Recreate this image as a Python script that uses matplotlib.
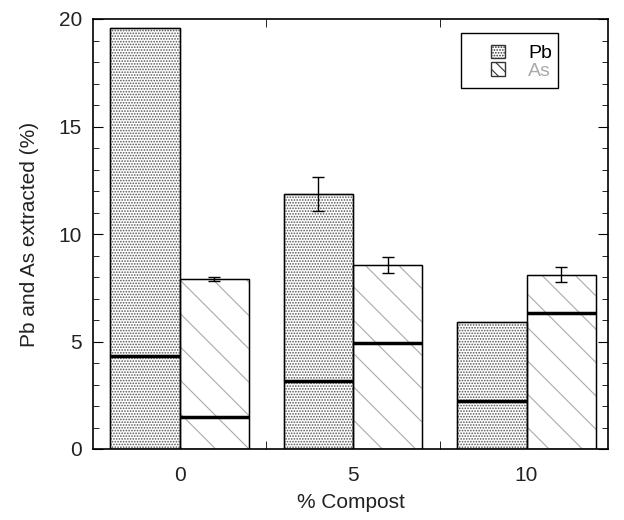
import matplotlib
matplotlib.use("Agg")
import matplotlib.pyplot as plt
from matplotlib.ticker import MultipleLocator, FixedLocator
from matplotlib.patches import Patch, Rectangle

plt.rcParams['font.family'] = ['Liberation Sans', 'DejaVu Sans']
plt.rcParams['hatch.linewidth'] = 0.8

# data
compost = ["0", "5", "10"]
pb_total = [19.6, 11.85, 5.9]
pb_err = [0.0, 0.8, 0.0]
pb_inner = [4.33, 3.16, 2.23]
as_total = [7.9, 8.57, 8.1]
as_err = [0.08, 0.38, 0.35]
as_inner = [1.49, 4.93, 6.33]

x = list(range(len(compost)))
w = 0.4
pb_x = [i - w / 2 for i in x]
as_x = [i + w / 2 for i in x]

fig = plt.figure(figsize=(6.24, 5.2), dpi=100)
ax = fig.add_axes([93 / 624, 71 / 520, 515 / 624, 430 / 520])

ax.bar(pb_x, pb_total, width=w, facecolor="white", edgecolor="#555555",
       hatch="......", linewidth=1.0)
ax.bar(as_x, as_total, width=w, facecolor="white", edgecolor="#aaaaaa",
       hatch="\\", linewidth=1.0)
# outlines in black on top of the hatching
ax.bar(pb_x, pb_total, width=w, fill=False, edgecolor="black", linewidth=1.0)
ax.bar(as_x, as_total, width=w, fill=False, edgecolor="black", linewidth=1.0)

# thick inner lines
ax.hlines(pb_inner, [i - w / 2 for i in pb_x], [i + w / 2 for i in pb_x],
          colors="black", linewidth=2.5)
ax.hlines(as_inner, [i - w / 2 for i in as_x], [i + w / 2 for i in as_x],
          colors="black", linewidth=2.5)

# error bars
for xs, ys, es in [(pb_x, pb_total, pb_err), (as_x, as_total, as_err)]:
    for xi, yi, ei in zip(xs, ys, es):
        if ei > 0:
            ax.errorbar(xi, yi, yerr=ei, fmt="none", ecolor="black",
                        elinewidth=1.0, capsize=4, capthick=1.0)

ax.set_xlim(-0.5, 2.47)
ax.set_ylim(0, 20)
ax.set_xticks(x)
ax.set_xticklabels(compost)
ax.xaxis.set_minor_locator(FixedLocator([0.5, 1.5]))
ax.yaxis.set_major_locator(MultipleLocator(5))
ax.yaxis.set_minor_locator(MultipleLocator(1))
ax.tick_params(axis="x", which="major", length=0, pad=12, labelsize=15,
               labelcolor="#222222")
ax.tick_params(axis="x", which="minor", direction="in", length=6,
               top=True, bottom=True)
ax.tick_params(axis="y", which="major", direction="in", length=7, pad=8,
               left=True, right=True, labelsize=15, labelcolor="#222222")
ax.tick_params(axis="y", which="minor", direction="in", length=4,
               left=True, right=True)
for s in ax.spines.values():
    s.set_linewidth(1.2)

ax.set_xlabel("% Compost", fontsize=15, color="#222222", labelpad=6)
ax.set_ylabel("Pb and As extracted (%)", fontsize=15, color="#222222",
              labelpad=14)

# legend: box drawn by hand so the wide left margin can be matched
ax.add_patch(Rectangle((0.7146, 0.8395), 0.1884, 0.1275, transform=ax.transAxes,
                       fill=False, edgecolor="black", linewidth=1.0, zorder=5))
handles = [Patch(facecolor="white", edgecolor="#333333", hatch="......"),
           Patch(facecolor="white", edgecolor="#333333", hatch="\\\\\\")]
leg = ax.legend(handles, ["Pb", "As"], loc="upper left",
                bbox_to_anchor=(0.773, 0.94), fontsize=14, frameon=False,
                handlelength=0.7, handleheight=0.7, handletextpad=1.2,
                borderpad=0, labelspacing=0.0, borderaxespad=0)
leg.get_texts()[1].set_color("#aaaaaa")

fig.savefig("out.png", dpi=100)
